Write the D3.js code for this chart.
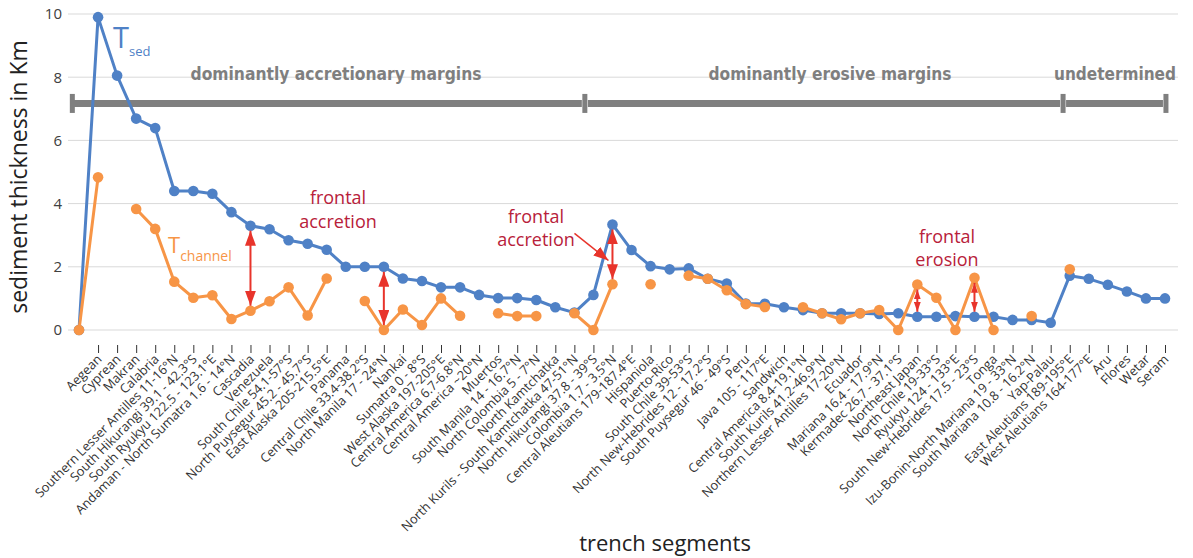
<!DOCTYPE html>
<html>
<head>
<meta charset="utf-8">
<script src="https://d3js.org/d3.v7.min.js"></script>
<style>
  body { margin: 0; background: #fff; }
  svg { font-family: "Open Sans", "Noto Sans", sans-serif; }
</style>
</head>
<body>
<svg id="chart" width="1193" height="558"></svg>
<script>
// first category is an unlabeled anchor at 0
var categories = ["", "Aegean", "Cyprean", "Makran", "Calabria", "Southern Lesser Antilles 11-16°N",
  "South Hikurangi 39.1 - 42.3°S", "South Ryukyu 122.5 - 123.1°E", "Andaman - North Sumatra 1.6 - 14°N",
  "Cascadia", "Venezuela", "South Chile 54.1-57°S", "North Puysegur 45.2 - 45.7°S", "East Alaska 205-215.5°E",
  "Panama", "Central Chile 33.4-38.2°S", "North Manila 17 - 24°N", "Nankai", "Sumatra 0 - 8°S",
  "West Alaska  197-205°E", "Central America 6.7-6.8°N", "Central America ~20°N", "Muertos",
  "South Manila 14 - 16.7°N", "North Colombia 5 - 7°N", "North Kamtchatka",
  "North Kurils - South Kamtchatka 47-51°N", "North Hikurangi 37.8 - 39°S", "Colombia 1.7 - 3.5°N",
  "Central Aleutians 179-187.4°E", "Hispaniola", "Puerto-Rico", "South Chile 39-53°S",
  "North New-Hebrides 12 - 17.2°S", "South Puysegur 46 - 49°S", "Peru", "Java 105 - 117°E", "Sandwich",
  "Central America 8.4-19.1°N", "South Kurils 41.2-46.9°N", "Northern Lesser Antilles 17-20°N", "Ecuador",
  "Mariana 16.4 - 17.9°N", "Kermadec 26.7 - 37.1°S", "Northeast Japan", "North Chile 19-33°S",
  "Ryukyu 124 - 133°E", "South New-Hebrides 17.5 - 23°S", "Tonga", "Izu-Bonin-North Mariana 19 - 33°N",
  "South Mariana 10.8 - 16.2°N", "Yap-Palau", "East Aleutians 189-195°E", "West Aleutians 164-177°E",
  "Aru", "Flores", "Wetar", "Seram"];

var tSed = [0, 9.9, 8.05, 6.69, 6.39, 4.4, 4.4, 4.31, 3.73, 3.3, 3.19, 2.84, 2.73, 2.54, 2.0, 2.0, 2.0,
  1.63, 1.55, 1.35, 1.35, 1.11, 1.01, 1.01, 0.95, 0.72, 0.55, 1.11, 3.34, 2.53, 2.02, 1.92, 1.95,
  1.62, 1.47, 0.84, 0.83, 0.72, 0.63, 0.53, 0.53, 0.53, 0.51, 0.53, 0.42, 0.42, 0.44, 0.42, 0.42,
  0.32, 0.32, 0.23, 1.72, 1.62, 1.43, 1.22, 1.0, 1.0];

var tChannel = [0, 4.83, null, 3.83, 3.2, 1.53, 1.02, 1.1, 0.35, 0.61, 0.91, 1.35, 0.46, 1.63, null,
  0.92, 0, 0.65, 0.16, 1.0, 0.45, null, 0.53, 0.44, 0.44, null, 0.53, 0, 1.45, null, 1.45, null,
  1.72, 1.62, 1.26, 0.82, 0.73, null, 0.72, 0.53, 0.34, 0.53, 0.63, 0, 1.44, 1.02, 0, 1.65, 0,
  null, 0.44, null, 1.92, null, null, null, null, null];

var yTicks = [0, 2, 4, 6, 8, 10];

// margin type brackets, in category index units
var marginLabels = ["dominantly accretionary margins", "dominantly erosive margins", "undetermined"];
var marginStart = [-0.35, 26.55, 51.65];
var marginEnd = [26.55, 51.65, 57.05];
var marginLevel = 7.17;

// double arrows between the two series
var arrowCats = ["Cascadia", "North Manila 17 - 24°N", "Colombia 1.7 - 3.5°N", "Northeast Japan", "South New-Hebrides 17.5 - 23°S"];
var arrowSmall = [false, false, false, true, true];

var blue = "#4f81c6", orange = "#f79546", red = "#e8342b", darkRed = "#b8213a", grey = "#7f7f7f";

var svg = d3.select("#chart");

var x = d3.scalePoint().domain(categories).range([79, 1165]);
var xi = d3.scaleLinear().domain([0, categories.length - 1]).range([79, 1165]);
var y = d3.scaleLinear().domain([0, 10]).range([330, 14]);

// grid
svg.append("g").selectAll("line").data(yTicks).join("line")
  .attr("x1", 68).attr("x2", 1178)
  .attr("y1", function(d) { return y(d); }).attr("y2", function(d) { return y(d); })
  .attr("stroke", "#d9d9d9").attr("stroke-width", 1);

// y axis (labels only)
var yAxis = svg.append("g").attr("transform", "translate(68,0)")
  .call(d3.axisLeft(y).tickValues(yTicks).tickSize(0).tickPadding(6));
yAxis.select(".domain").remove();
yAxis.selectAll("text").attr("font-size", 15).attr("fill", "#404040")
  .attr("font-family", "'Open Sans', sans-serif");

// x axis: ticks below the plot, no line
var xAxis = svg.append("g").attr("transform", "translate(0,345)")
  .call(d3.axisBottom(x).tickValues(categories.slice(1)).tickSize(8));
xAxis.select(".domain").remove();
xAxis.selectAll("line").attr("stroke", "#333");
xAxis.selectAll("text")
  .attr("font-size", 12.8).attr("fill", "#333")
  .attr("font-family", "'Open Sans', sans-serif")
  .attr("text-anchor", "end")
  .attr("y", 0).attr("dy", 0)
  .attr("transform", "translate(4,15) rotate(-45)");

// margin brackets
var mg = svg.append("g");
marginLabels.forEach(function(lbl, i) {
  var x0 = xi(marginStart[i]), x1 = xi(marginEnd[i]), yy = y(marginLevel);
  mg.append("line").attr("x1", x0 + (i == 0 ? 0 : 3)).attr("x2", x1 - 3)
    .attr("y1", yy).attr("y2", yy).attr("stroke", grey).attr("stroke-width", 7);
  if (i == 0) {
    mg.append("rect").attr("x", x0 - 2.5).attr("y", yy - 9.5).attr("width", 5).attr("height", 19).attr("fill", grey);
  }
  mg.append("rect").attr("x", x1 - 2.5).attr("y", yy - 9.5).attr("width", 5).attr("height", 19).attr("fill", grey);
});
var marginTextCenter = [336, 830, 1115];
var marginTextWidth = [291, 243, 122];
marginLabels.forEach(function(lbl, i) {
  mg.append("text").attr("x", marginTextCenter[i] - marginTextWidth[i] / 2).attr("y", y(marginLevel) - 23)
    .attr("font-family", "'DejaVu Sans Condensed', 'Liberation Sans Narrow', sans-serif")
    .attr("font-weight", "bold").attr("font-size", 18.5).attr("fill", grey)
    .attr("textLength", marginTextWidth[i]).attr("lengthAdjust", "spacingAndGlyphs")
    .text(lbl);
});

// series
var line = d3.line()
  .defined(function(d) { return d != null; })
  .x(function(d, i) { return x(categories[i]); })
  .y(function(d) { return y(d); });

function drawSeries(vals, color) {
  svg.append("path").datum(vals).attr("d", line)
    .attr("fill", "none").attr("stroke", color).attr("stroke-width", 3).attr("stroke-linejoin", "round");
  svg.append("g").selectAll("circle")
    .data(vals.map(function(v, i) { return {v: v, i: i}; }).filter(function(d) { return d.v != null; }))
    .join("circle")
    .attr("cx", function(d) { return x(categories[d.i]); })
    .attr("cy", function(d) { return y(d.v); })
    .attr("r", 5.3).attr("fill", color);
}
drawSeries(tSed, blue);
drawSeries(tChannel, orange);

// arrow markers
var defs = svg.append("defs");
function marker(id, w, h) {
  defs.append("marker").attr("id", id)
    .attr("viewBox", "0 0 " + w + " " + h).attr("refX", w).attr("refY", h / 2)
    .attr("markerWidth", w).attr("markerHeight", h)
    .attr("markerUnits", "userSpaceOnUse").attr("orient", "auto-start-reverse")
    .append("path").attr("d", "M0,0L" + w + "," + (h / 2) + "L0," + h + "Z").attr("fill", red);
}
marker("arrowBig", 15, 11);
marker("arrowSmall", 10, 7);

arrowCats.forEach(function(c, k) {
  var i = categories.indexOf(c);
  var a = tSed[i], b = tChannel[i];
  var top = Math.max(a, b), bot = Math.min(a, b);
  var m = arrowSmall[k] ? "url(#arrowSmall)" : "url(#arrowBig)";
  svg.append("line")
    .attr("x1", x(c)).attr("x2", x(c))
    .attr("y1", y(top) + 5).attr("y2", y(bot) - 5)
    .attr("stroke", red).attr("stroke-width", 2)
    .attr("marker-start", m).attr("marker-end", m);
});

// pointer arrow towards Colombia
var colX = x("Colombia 1.7 - 3.5°N");
svg.append("line")
  .attr("x1", colX - 38).attr("y1", y(3.06))
  .attr("x2", colX - 4).attr("y2", y(2.2))
  .attr("stroke", red).attr("stroke-width", 1.5)
  .attr("marker-end", "url(#arrowBig)");

// annotations
function note(cx, lines, baseY, lh) {
  lines.forEach(function(t, j) {
    svg.append("text").attr("x", cx).attr("y", baseY + j * lh)
      .attr("text-anchor", "middle").attr("font-size", 18).attr("fill", darkRed).text(t);
  });
}
note(338, ["frontal", "accretion"], 204, 24);
note(536, ["frontal", "accretion"], 223, 23);
note(947, ["frontal", "erosion"], 243, 23);

var tsed = svg.append("text").attr("x", 113).attr("y", 48).attr("fill", blue);
tsed.append("tspan").attr("font-size", 29).text("T");
tsed.append("tspan").attr("font-size", 13).attr("dy", 8).text("sed");

var tch = svg.append("text").attr("x", 168).attr("y", 253).attr("fill", orange);
tch.append("tspan").attr("font-size", 22).text("T");
tch.append("tspan").attr("font-size", 14).attr("dy", 8).text("channel");

// axis titles
svg.append("text")
  .attr("transform", "translate(27,177) rotate(-90)")
  .attr("text-anchor", "middle").attr("font-size", 23).attr("fill", "#222")
  .text("sediment thickness in Km");

svg.append("text")
  .attr("x", 665).attr("y", 551)
  .attr("text-anchor", "middle").attr("font-size", 22).attr("fill", "#222")
  .text("trench segments");
</script>
</body>
</html>
